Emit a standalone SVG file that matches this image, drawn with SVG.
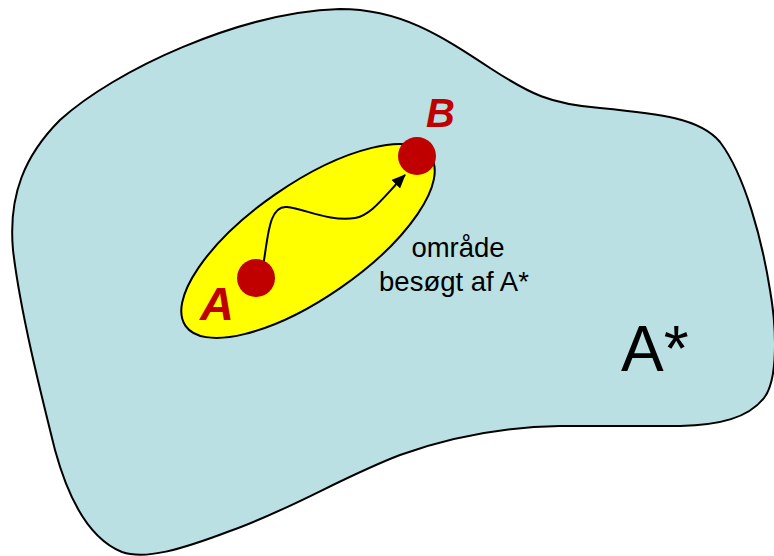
<svg xmlns="http://www.w3.org/2000/svg" width="774" height="556" viewBox="0 0 774 556">
<style>
.outline{stroke:#000;stroke-width:2;}
.red{fill:#C00000;}
.lbl{font-family:"Liberation Sans",Arial,sans-serif;font-weight:bold;font-style:italic;fill:#C00000;}
.txt{font-family:"Liberation Sans",Arial,sans-serif;fill:#000;}
</style>
<defs>
<marker id="arr" markerWidth="14" markerHeight="12" refX="13" refY="6" orient="auto" markerUnits="userSpaceOnUse">
<path d="M0,0 L14,6 L0,12 Z" fill="#000"/>
</marker>
</defs>
<rect width="774" height="556" fill="#fff"/>
<g id="astar-region">
<path class="outline" fill="#BAE0E3" d="M340,9 C400,9 440,35 490,68 C530,94 550,104 600,108 C660,114 700,118 720,142 C745,175 762,240 770,290 C777,330 778,380 764,398 C748,418 720,425 680,426 L560,426 C500,427 450,437 400,455 C340,478 290,510 230,531 C180,550 145,560 122,552 C92,540 70,505 55,450 C40,390 20,310 13,250 C8,195 25,155 60,120 C115,70 240,12 340,9 Z"/>
<text class="txt" x="621" y="371" font-size="64">A*</text>
</g>
<g id="visited-area">
<ellipse class="outline" fill="#FFFF00" cx="308" cy="241" rx="149" ry="57" transform="rotate(-34.7 308 241)"/>
<text class="txt" x="458" y="257" font-size="27.5" text-anchor="middle">område</text>
<text class="txt" x="454" y="291" font-size="27.5" text-anchor="middle">besøgt af A*</text>
</g>
<g id="connectors">
<path d="M263,266 C268,240 268,205 287,207 C305,209 330,222 355,218 C372,215 385,195 405,175" fill="none" stroke="#000" stroke-width="2" marker-end="url(#arr)"/>
</g>
<g id="node-A">
<circle class="red" cx="256" cy="278" r="19"/>
<text class="lbl" x="200" y="320" font-size="47">A</text>
</g>
<g id="node-B">
<circle class="red" cx="417" cy="156" r="19"/>
<text class="lbl" x="426" y="127" font-size="40">B</text>
</g>
</svg>
